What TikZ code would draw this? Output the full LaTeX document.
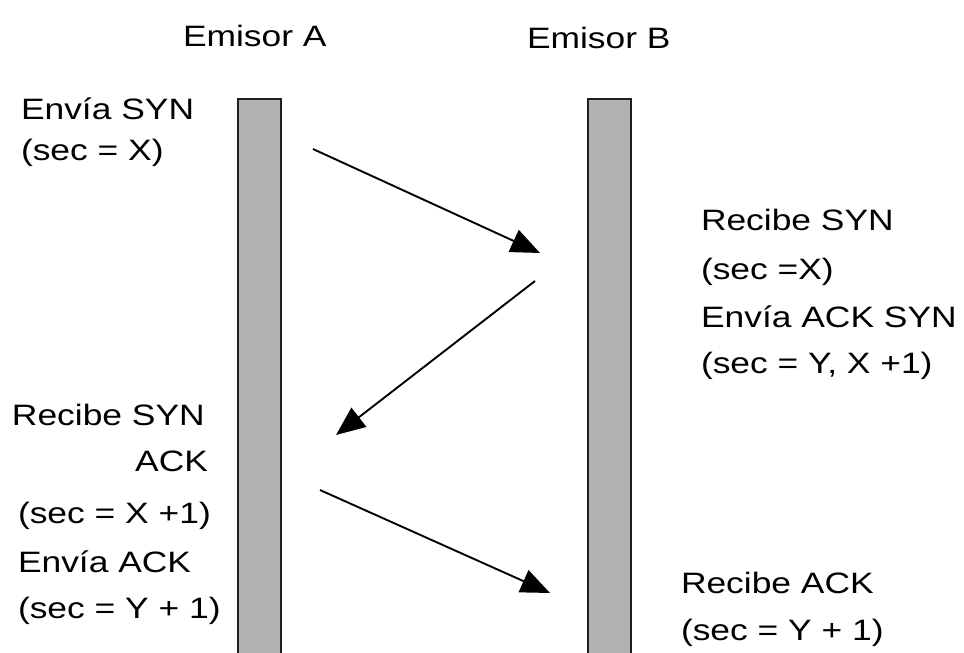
\documentclass[tikz,border=0pt]{standalone}
\usepackage{fontspec}
\setmainfont[FakeStretch=1.2]{Liberation Sans}
\usetikzlibrary{arrows.meta}
\definecolor{barfill}{HTML}{B2B2B2}
\definecolor{barline}{HTML}{1E1E1E}
\tikzset{
  lbl/.style={anchor=base west,inner sep=0pt,outer sep=0pt,font=\fontsize{29.5}{35}\selectfont},
  lblr/.style={anchor=base east,inner sep=0pt,outer sep=0pt,font=\fontsize{29.5}{35}\selectfont},
  bar/.style={fill=barfill,draw=barline,line width=2.8pt},
  msg/.style={line width=1.9pt,-{Triangle[length=29pt,width=24pt]}}
}
\begin{document}
\begin{tikzpicture}[x=1pt,y=-1pt]
\useasboundingbox (0,0) rectangle (964,653);
% lifelines
\path[bar] (238,665) -- (238,99) -- (281,99) -- (281,665);
\path[bar] (588,665) -- (588,99) -- (631,99) -- (631,665);
% headers
\node[lbl] (ha) at (183,46) {Emisor A};
\node[lbl] (hb) at (527,48) {Emisor B};
% left top
\node[lbl] (l1) at (21,119) {Envía SYN};
\node[lbl] (l2) at (21,160) {(sec = X)};
% right middle
\node[lbl] (r1) at (701,230) {Recibe SYN};
\node[lbl] (r2) at (701,279) {(sec =X)};
\node[lbl] (r3) at (701,327) {Envía ACK SYN};
\node[lbl] (r4) at (701,373) {(sec = Y, X +1)};
% left bottom
\node[lbl] (m1) at (12,425) {Recibe SYN};
\node[lblr] (m2) at (208,471) {ACK};
\node[lbl] (m3) at (18,523) {(sec = X +1)};
\node[lbl] (m4) at (18,572) {Envía ACK};
\node[lbl] (m5) at (18,618) {(sec = Y + 1)};
% right bottom
\node[lbl] (b1) at (681,593) {Recibe ACK};
\node[lbl] (b2) at (681,640) {(sec = Y + 1)};
% messages
\coordinate (s1) at (313,149);
\coordinate (t1) at (540,253);
\coordinate (s2) at (535,281);
\coordinate (t2) at (336,435);
\coordinate (s3) at (320,490);
\coordinate (t3) at (550,593);
\draw[msg] (s1) -- (t1);
\draw[msg] (s2) -- (t2);
\draw[msg] (s3) -- (t3);
\end{tikzpicture}
\end{document}
